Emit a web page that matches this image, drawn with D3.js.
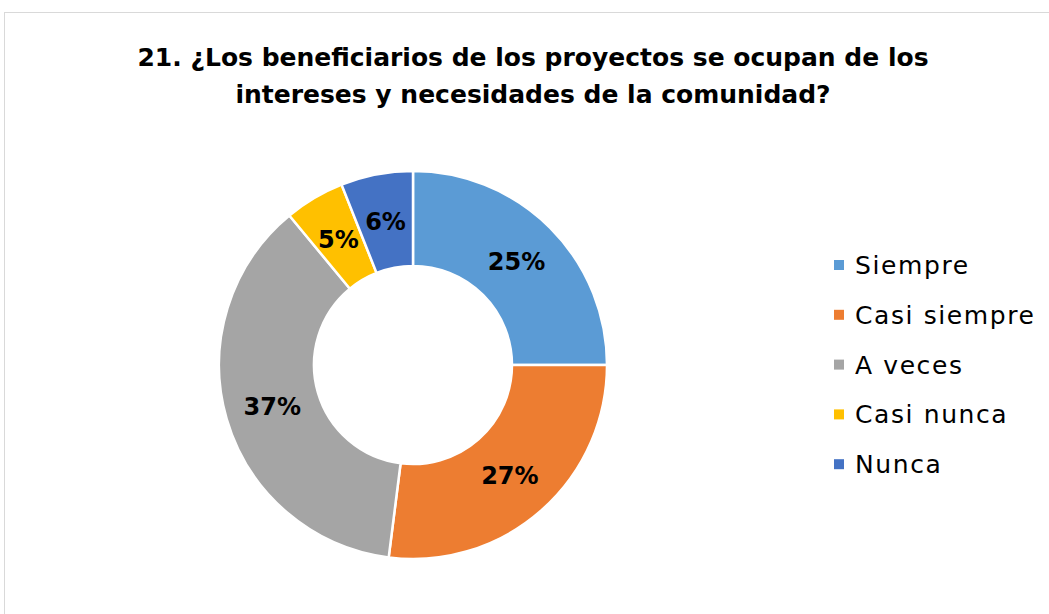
<!DOCTYPE html>
<html>
<head>
<meta charset="utf-8">
<script src="https://cdn.jsdelivr.net/npm/d3@7"></script>
<style>
  html, body { margin: 0; padding: 0; background: #fff; }
  svg { display: block; }
</style>
</head>
<body>
<div id="chart"></div>
<script>
const categories = ['Siempre', 'Casi siempre', 'A veces', 'Casi nunca', 'Nunca'];
const values = [25, 27, 37, 5, 6];
const colors = ['#5B9BD5', '#ED7D31', '#A5A5A5', '#FFC000', '#4472C4'];
const titleLines = ['21. ¿Los beneficiarios de los proyectos se ocupan de los',
                    'intereses y necesidades de la comunidad?'];

const width = 1049, height = 614;
const cx = 413, cy = 365;
const outerRadius = 194, innerRadius = 99;

const svg = d3.select('#chart').append('svg')
  .attr('width', width)
  .attr('height', height);

// chart frame (runs off the right and bottom edges)
svg.append('rect')
  .attr('x', 4.5).attr('y', 12.5)
  .attr('width', width + 20).attr('height', height + 20)
  .attr('fill', '#fff')
  .attr('stroke', '#d9d9d9')
  .attr('stroke-width', 1);

const fontFamily = "'DejaVu Sans', Verdana, sans-serif";

svg.append('g').selectAll('text')
  .data(titleLines)
  .join('text')
  .attr('x', 533)
  .attr('y', (d, i) => 66 + i * 37)
  .attr('text-anchor', 'middle')
  .style('font-family', fontFamily)
  .style('font-weight', 'bold')
  .style('font-size', '25px')
  .attr('fill', '#000')
  .text(d => d);

const color = d3.scaleOrdinal().domain(categories).range(colors);

const pie = d3.pie().sort(null).value(d => d.value);
const arc = d3.arc().innerRadius(innerRadius).outerRadius(outerRadius);
const labelArc = d3.arc().innerRadius((innerRadius + outerRadius) / 2).outerRadius((innerRadius + outerRadius) / 2);

const data = categories.map((c, i) => ({name: c, value: values[i]}));
const total = d3.sum(values);

const g = svg.append('g').attr('transform', `translate(${cx}, ${cy})`);

g.selectAll('path')
  .data(pie(data))
  .join('path')
  .attr('d', arc)
  .attr('fill', d => color(d.data.name))
  .attr('stroke', '#fff')
  .attr('stroke-width', 2.5);

g.selectAll('text.label')
  .data(pie(data))
  .join('text')
  .attr('class', 'label')
  .attr('transform', d => `translate(${labelArc.centroid(d)})`)
  .attr('text-anchor', 'middle')
  .attr('dy', '0.36em')
  .style('font-family', fontFamily)
  .style('font-weight', 'bold')
  .style('font-size', '24px')
  .attr('fill', '#000')
  .text(d => Math.round(d.data.value / total * 100) + '%');

// legend
const legend = svg.append('g').attr('transform', 'translate(834, 265)');
const rows = legend.selectAll('g')
  .data(categories)
  .join('g')
  .attr('transform', (d, i) => `translate(0, ${i * 49.8})`);

rows.append('rect')
  .attr('x', 0).attr('y', -5)
  .attr('width', 10).attr('height', 10)
  .attr('fill', d => color(d));

rows.append('text')
  .attr('x', 21)
  .attr('dy', '0.36em')
  .style('font-family', fontFamily)
  .style('font-size', '25px')
  .style('letter-spacing', '1.6px')
  .attr('fill', '#000')
  .text(d => d);
</script>
</body>
</html>
